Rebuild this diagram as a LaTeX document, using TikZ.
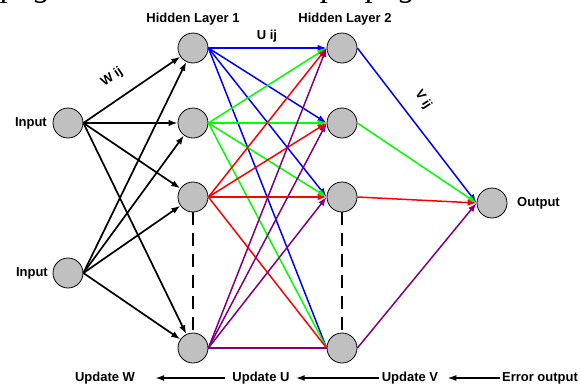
\documentclass[tikz,border=0pt]{standalone}
\usepackage{fontspec}
\setmainfont{Liberation Sans}
\newfontfamily\capserif{Liberation Serif}
\usetikzlibrary{arrows.meta}
\definecolor{nodegray}{RGB}{192,192,192}
\definecolor{cblue}{RGB}{0,0,255}
\definecolor{cgreen}{RGB}{0,255,0}
\definecolor{cred}{RGB}{255,0,0}
\definecolor{cpurple}{RGB}{128,0,128}
\tikzset{
  neuron/.style={circle, draw=black, line width=0.8pt, fill=nodegray, minimum size=30pt, inner sep=0pt},
  lbl/.style={font=\fontsize{13}{15}\selectfont\bfseries, inner sep=0pt},
  wline/.style={line width=1.7pt, -{Latex[length=9pt,width=6.5pt]}},
  cline/.style={line width=1.5pt, -{Latex[length=9pt,width=6.5pt]}},
  pline/.style={line width=1.5pt},
  flow/.style={line width=1.6pt, -{Latex[length=9pt,width=6pt]}},
  vdash/.style={line width=1.8pt, dash pattern=on 13pt off 8pt},
  captext/.style={font=\fontsize{33}{33}\selectfont\capserif\itshape, inner sep=0pt, anchor=base west}
}
\begin{document}
\begin{tikzpicture}[x=1pt,y=-1pt]
\useasboundingbox (0,0) rectangle (581,386);
\fill[white] (0,0) rectangle (581,386);
\begin{scope}
\clip (0,0) rectangle (581,386);
\node[captext] (capA) at (-43,-4) {propagation};
\node[captext] (capB) at (322,-4) {propagation};
\end{scope}
% nodes
\node[neuron] (i1) at (68,123) {};
\node[neuron] (i2) at (68,273) {};
\node[neuron] (a1) at (193,48) {};
\node[neuron] (a2) at (193,123) {};
\node[neuron] (a3) at (193,197) {};
\node[neuron] (a4) at (193,348) {};
\node[neuron] (b1) at (342,48) {};
\node[neuron] (b2) at (342,123) {};
\node[neuron] (b3) at (342,197) {};
\node[neuron] (b4) at (342,348) {};
\node[neuron] (o) at (492,203) {};
% labels
\node[lbl, anchor=east] (li1) at (47,123) {Input};
\node[lbl, anchor=east] (li2) at (48,273) {Input};
\node[lbl] (lh1) at (193,19) {Hidden Layer 1};
\node[lbl] (lh2) at (345,19) {Hidden Layer 2};
\node[lbl] (lu) at (267,36) {U ij};
\node[lbl, rotate=34] (lw) at (112,77) {W ij};
\node[lbl, rotate=-57] (lv) at (423,100) {V ij};
\node[lbl, anchor=west] (lo) at (517,203) {Output};
% dashed verticals
\draw[vdash] (a3.south) -- (a4.north);
\draw[vdash] (b3.south) -- (b4.north);
% input to hidden 1
\foreach \s in {i1,i2}{
  \foreach \t in {a1,a2,a3,a4}{
    \draw[wline] (\s.east) -- (\t);
  }
}
% hidden 1 to hidden 2
\foreach \s/\c in {a1/cblue,a2/cgreen,a3/cred,a4/cpurple}{
  \foreach \t in {b1,b2,b3}{
    \draw[cline, draw=\c, fill=\c] (\s.east) -- (\t.west);
  }
  \draw[pline, draw=\c] (\s.east) -- (b4.west);
}
% hidden 2 to output
\draw[cline, draw=cblue] (b1.east) -- (o.west);
\draw[cline, draw=cgreen] (b2.east) -- (o.west);
\draw[cline, draw=cred] (b3.east) -- (o.west);
\draw[cline, draw=cpurple] (b4.east) -- (o.west);
% bottom flow
\node[lbl] (uw) at (105,378) {Update W};
\node[lbl] (uu) at (261,378) {Update U};
\node[lbl] (uv) at (410,378) {Update V};
\node[lbl] (eo) at (540,378) {Error output};
\draw[flow] ([xshift=-2pt]eo.west) -- ([xshift=9pt]uv.east);
\draw[flow] ([xshift=-3pt]uv.west) -- ([xshift=6pt]uu.east);
\draw[flow] ([xshift=-7pt]uu.west) -- ([xshift=20pt]uw.east);
\end{tikzpicture}
\end{document}
